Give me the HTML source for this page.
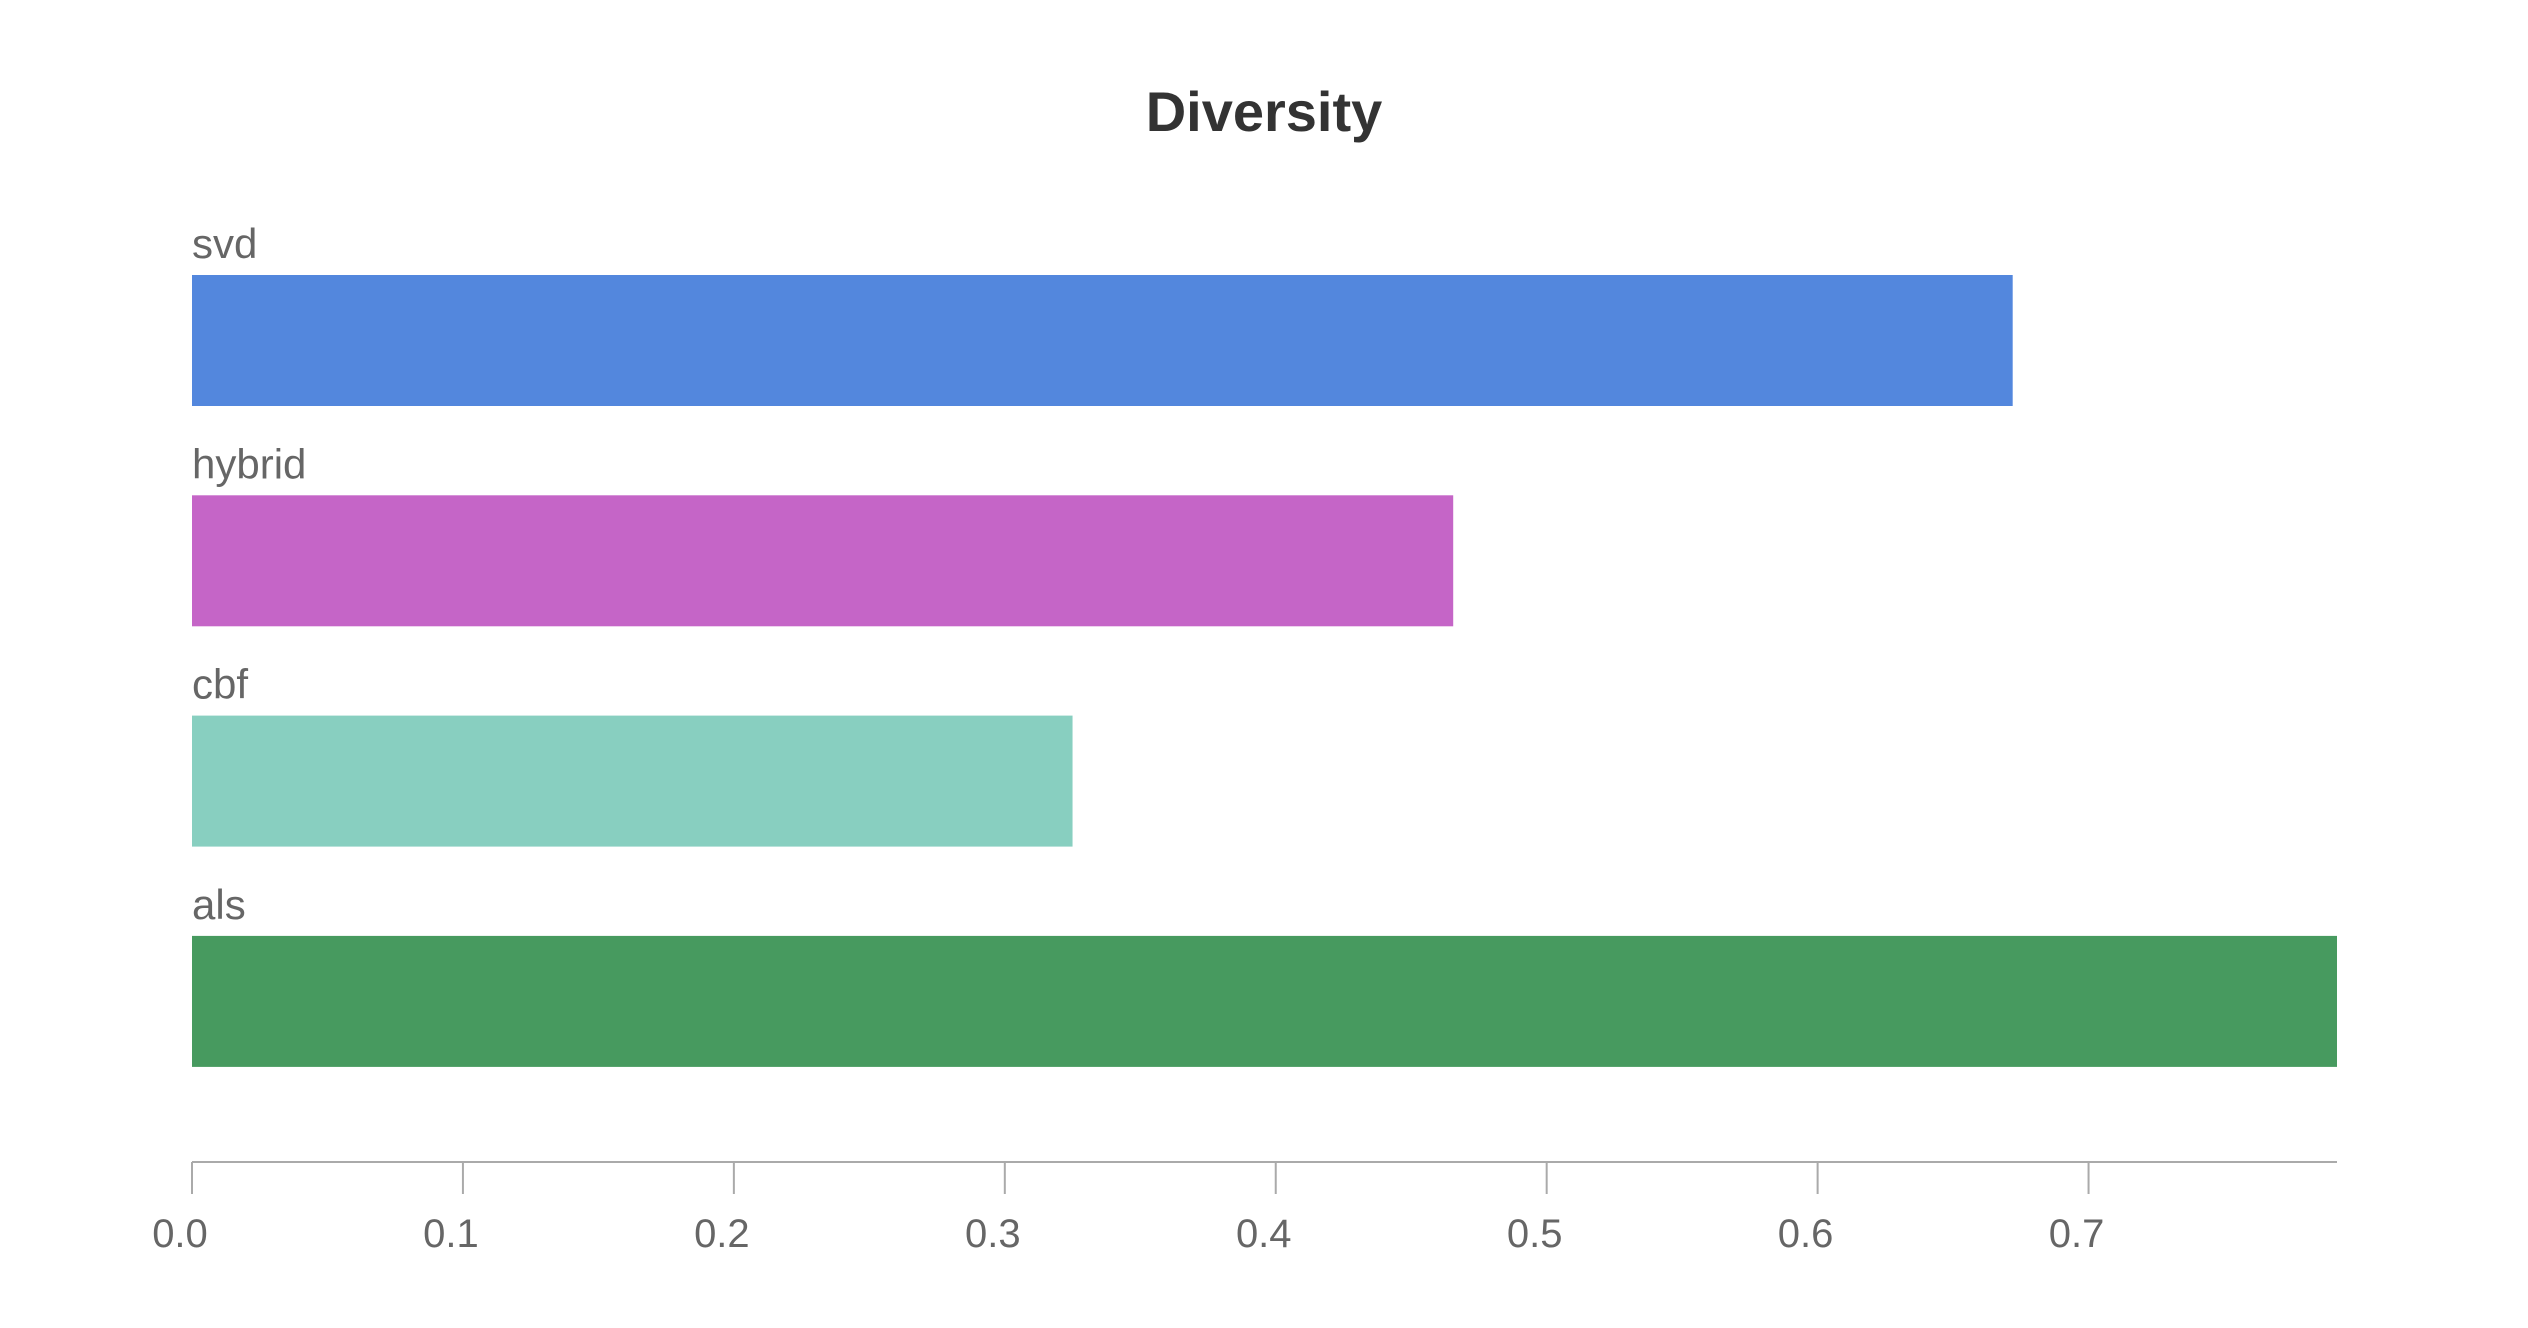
<!DOCTYPE html>
<html><head><meta charset="utf-8"><style>
html,body{margin:0;padding:0;background:#fff;}
svg{display:block;font-family:"Liberation Sans",sans-serif;}
</style></head><body>
<svg id="chart" width="2528" height="1328" viewBox="0 0 2528 1328">
<text x="1264" y="131" text-anchor="middle" font-size="56" font-weight="bold" fill="#333">Diversity</text>
<g id="bars"></g>
<g id="axis"></g>
</svg>
<script>
const categories = ["svd","hybrid","cbf","als"];
const values = [0.672, 0.4655, 0.325, 0.7917];
const colors = ["#5387DD","#C565C7","#88CFC0","#479A5F"];
const ticks = [0,0.1,0.2,0.3,0.4,0.5,0.6,0.7];
const tickLabels = ["0.0","0.1","0.2","0.3","0.4","0.5","0.6","0.7"];
const xMax = 0.7917;
const X0 = 192, X1 = 2337;
function xs(v){ return X0 + (X1 - X0) * v / xMax; }
const bandTop = 275, bandStep = 220.3, barH = 131;
function ys(i){ return bandTop + i * bandStep; }
const NS = "http://www.w3.org/2000/svg";
const bars = document.getElementById("bars");
categories.forEach((c,i)=>{
  const r = document.createElementNS(NS,"rect");
  r.setAttribute("x", X0); r.setAttribute("y", ys(i));
  r.setAttribute("width", xs(values[i]) - X0); r.setAttribute("height", barH);
  r.setAttribute("fill", colors[i]);
  
  
  bars.appendChild(r);
  const t = document.createElementNS(NS,"text");
  t.setAttribute("x", X0); t.setAttribute("y", ys(i) - 17);
  t.setAttribute("font-size", "42"); t.setAttribute("fill", "#666");
  t.textContent = c;
  
  
  bars.appendChild(t);
});
const axis = document.getElementById("axis");
const axisY = 1162;
const line = document.createElementNS(NS,"line");
line.setAttribute("x1", X0); line.setAttribute("x2", X1);
line.setAttribute("y1", axisY); line.setAttribute("y2", axisY);
line.setAttribute("stroke", "#aaa"); line.setAttribute("stroke-width", "2");


axis.appendChild(line);
ticks.forEach((v,i)=>{
  const l = document.createElementNS(NS,"line");
  l.setAttribute("x1", xs(v)); l.setAttribute("x2", xs(v));
  l.setAttribute("y1", axisY); l.setAttribute("y2", axisY + 32);
  l.setAttribute("stroke", "#aaa"); l.setAttribute("stroke-width", "2");
  
  
  axis.appendChild(l);
  const t = document.createElementNS(NS,"text");
  t.setAttribute("x", xs(v) - 12); t.setAttribute("y", 1247);
  t.setAttribute("text-anchor", "middle");
  t.setAttribute("font-size", "40"); t.setAttribute("fill", "#666");
  t.textContent = tickLabels[i];
  
  
  axis.appendChild(t);
});
</script>
</body></html>
